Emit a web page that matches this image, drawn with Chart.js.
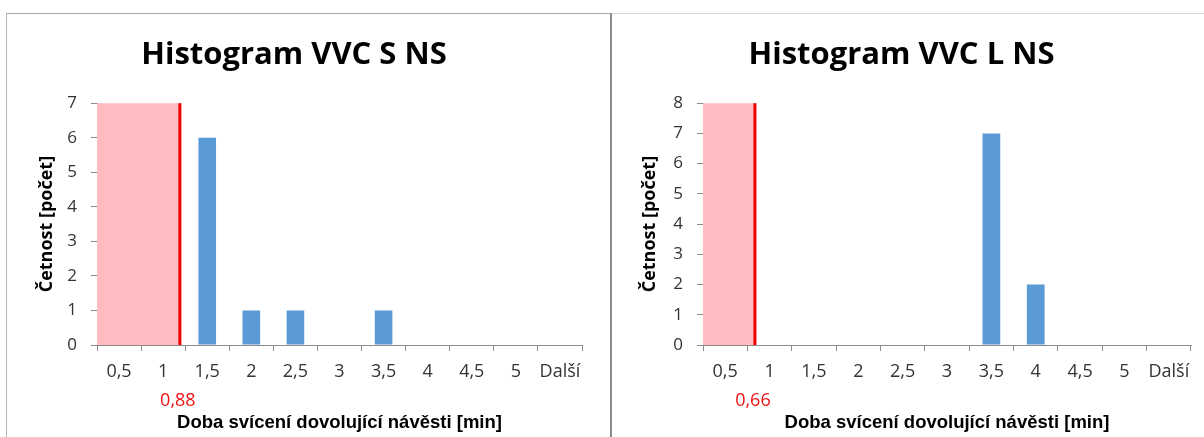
<!DOCTYPE html>
<html>
<head>
<meta charset="utf-8">
<script src="https://cdn.jsdelivr.net/npm/chart.js@4"></script>
<style>
  body { margin: 0; background: #fff; width: 1204px; height: 437px; overflow: hidden; position: relative; }
  .panel { position: absolute; top: 13px; height: 430px; box-sizing: border-box; }
  #pS { left: 6px; width: 606px; border-top: 1px solid #a8a8a8; border-left: 1px solid #b8b8b8; border-right: 2px solid #8c8c8c; }
  #pL { left: 612px; width: 592px; border-top: 1px solid #d4d4d4; }
  canvas { position: absolute; top: 13px; }
</style>
</head>
<body>
<div class="panel" id="pS"></div>
<div class="panel" id="pL"></div>
<canvas id="chartS" width="605" height="424" style="left:6px"></canvas>
<canvas id="chartL" width="592" height="424" style="left:612px"></canvas>
<script>
// třídy histogramu (horní meze)
const categories = ['0,5', '1', '1,5', '2', '2,5', '3', '3,5', '4', '4,5', '5', 'Další'];
// četnosti
const countsS = [0, 0, 6, 1, 1, 0, 1, 0, 0, 0, 0];
const countsL = [0, 0, 0, 0, 0, 0, 7, 2, 0, 0, 0];
// mezní hodnota: popisek a místo na ose tříd
const limitS = ['0,88', 1.38];
const limitL = ['0,66', 0.67];

// růžová oblast + červená čára s popiskem
const limitPlugin = {
    id: 'limit',
    beforeDatasetsDraw(chart, args, opts) {
        const { ctx, chartArea, scales } = chart;
        const x = scales.x.getPixelForValue(opts.at);
        const y0 = scales.y.getPixelForValue(0);
        ctx.save();
        ctx.fillStyle = '#ffbdc2';
        ctx.fillRect(chartArea.left, chartArea.top, x - chartArea.left, y0 - chartArea.top);
        ctx.restore();
    },
    afterDatasetsDraw(chart, args, opts) {
        const { ctx, chartArea, scales } = chart;
        const x = scales.x.getPixelForValue(opts.at);
        const y0 = scales.y.getPixelForValue(0);
        ctx.save();
        ctx.strokeStyle = '#ee0000';
        ctx.lineWidth = 3;
        ctx.beginPath();
        ctx.moveTo(x, chartArea.top);
        ctx.lineTo(x, y0);
        ctx.stroke();
        ctx.fillStyle = '#ee1111';
        ctx.font = '18px "Open Sans"';
        ctx.textAlign = 'center';
        ctx.textBaseline = 'middle';
        ctx.fillText(opts.label, x - 2, y0 + 56);
        ctx.restore();
    }
};

function makeChart(id, title, counts, limit, yMax, padRight, yTitlePad) {
    return new Chart(document.getElementById(id), {
        type: 'bar',
        data: {
            labels: categories,
            datasets: [{
                data: counts,
                backgroundColor: '#5b9bd5',
                barPercentage: 0.4,
                categoryPercentage: 1
            }]
        },
        plugins: [limitPlugin],
        options: {
            responsive: false,
            animation: false,
            layout: { padding: { right: padRight, left: 0, top: 0, bottom: 0 } },
            plugins: {
                legend: { display: false },
                tooltip: { enabled: false },
                title: {
                    display: true,
                    text: title,
                    color: '#000',
                    font: { family: 'Open Sans', size: 31, weight: 'bold' },
                    padding: { top: 24, bottom: 29 }
                },
                limit: { label: limit[0], at: limit[1] }
            },
            scales: {
                x: {
                    grid: { display: true, drawOnChartArea: false, drawTicks: true, tickLength: 6, color: '#8c8c8c' },
                    border: { color: '#8c8c8c' },
                    ticks: { color: '#333', font: { family: 'Open Sans', size: 18 }, padding: 10, maxRotation: 0, autoSkip: false },
                    title: {
                        display: true,
                        text: 'Doba svícení dovolující návěsti [min]',
                        color: '#000',
                        font: { family: 'Liberation Sans', size: 18.5, weight: 'bold' },
                        padding: { top: 0, bottom: 3 }
                    },
                    afterFit(scale) { scale.height = 92; }
                },
                y: {
                    min: 0,
                    max: yMax,
                    ticks: { stepSize: 1, color: '#333', font: { family: 'Open Sans', size: 17 }, padding: 14 },
                    grid: { display: true, drawOnChartArea: false, drawTicks: true, tickLength: 6, color: '#8c8c8c' },
                    border: { color: '#8c8c8c' },
                    title: {
                        display: true,
                        text: 'Četnost [počet]',
                        color: '#000',
                        font: { family: 'Open Sans', size: 18, weight: 'bold' },
                        padding: { top: yTitlePad, bottom: 0 }
                    },
                    afterFit(scale) { scale.width = 91; }
                }
            }
        }
    });
}

makeChart('chartS', 'Histogram VVC S NS', countsS, limitS, 7, 29, 30);
makeChart('chartL', 'Histogram VVC L NS', countsL, limitL, 8, 13, 27);
</script>
</body>
</html>
